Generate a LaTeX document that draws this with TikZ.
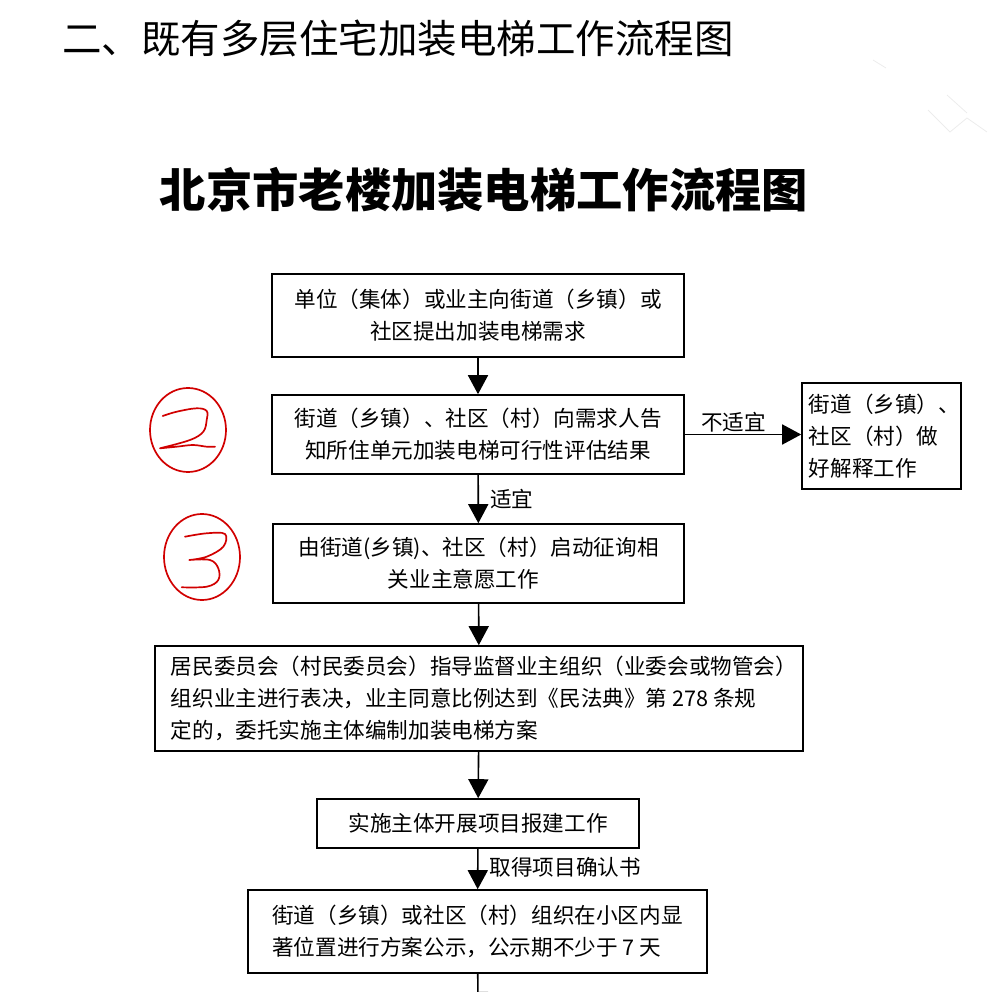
\documentclass[tikz,border=0pt]{standalone}
\usepackage{fontspec}
\setmainfont{Noto Sans CJK SC}
\usetikzlibrary{arrows.meta}

\tikzset{
  box/.style={draw,line width=1.6pt,inner sep=0pt,font=\fontsize{21.6}{32}\selectfont},
  flow/.style={-{Triangle[length=19pt,width=20pt]},line width=1.6pt},
  lbl/.style={inner sep=1pt,font=\fontsize{21.6}{32}\selectfont},
  hand/.style={red!82!black,line width=1.7pt,line cap=round,line join=round},
}

\begin{document}
\begin{tikzpicture}[x=1pt,y=-1pt]
  \useasboundingbox (0,0) rectangle (997,992);
  \clip (0,0) rectangle (997,992);
  % titulos
  \node[anchor=west,inner sep=0pt,font=\fontsize{39.5}{40}\selectfont] (head) at (62,38)
    {二、既有多层住宅加装电梯工作流程图};
  \node[inner sep=0pt,font=\fontsize{46.3}{48}\selectfont\bfseries] (title) at (484,190)
    {北京市老楼加装电梯工作流程图};
  % marca tenue arriba a la derecha
  \draw[gray!15,line width=0.8pt] (873,60)--(886,68) (928,110)--(950,132)--(967,118)--(987,132)
    (947,95)--(967,113);
  % cajas
  \node[box,minimum width=412pt,minimum height=83pt,align=center] (need) at (478,315.5)
    {单位（集体）或业主向街道（乡镇）或\\社区提出加装电梯需求};
  \node[box,minimum width=412pt,minimum height=79pt,align=center] (assess) at (478,434.5)
    {街道（乡镇）、社区（村）向需求人告\\知所住单元加装电梯可行性评估结果};
  \node[box,minimum width=159pt,minimum height=106pt,align=left] (explain) at (881.5,436)
    {\hspace*{6pt}街道（乡镇）、\\\hspace*{6pt}社区（村）做\\\hspace*{6pt}好解释工作};
  \node[box,minimum width=411pt,minimum height=79pt,align=center] (consult) at (478.5,563.5)
    {由街道(乡镇)、社区（村）启动征询相\\关业主意愿工作\hspace*{30pt}};
  \node[box,minimum width=648pt,minimum height=105pt,align=left] (vote) at (479,698.5)
    {\hspace*{10pt}居民委员会（村民委员会）指导监督业主组织（业委会或物管会）\\
     \hspace*{10pt}组织业主进行表决，业主同意比例达到《民法典》第 278 条规\\
     \hspace*{10pt}定的，委托实施主体编制加装电梯方案};
  \node[box,minimum width=322pt,minimum height=49pt] (report) at (478,823.5)
    {实施主体开展项目报建工作};
  \node[box,minimum width=459pt,minimum height=83pt,align=left] (publish) at (477.5,931.5)
    {街道（乡镇）或社区（村）组织在小区内显\\著位置进行方案公示，公示期不少于 7 天};
  \coordinate (next) at (478,1011);
  % flechas
  \draw[flow] (need) -- (assess);
  \draw[flow] (assess.east) -- (assess.east -| explain.west)
    node[lbl,pos=0.42,above=1pt] {不适宜};
  \draw[flow] (assess) -- (consult) node[lbl,midway,right=10pt] {适宜};
  \draw[flow] (consult) -- (vote);
  \draw[flow] (vote) -- (report);
  \draw[flow] (report) -- (publish) node[lbl,pos=0.45,right=10pt] {取得项目确认书};
  \draw[flow] (publish) -- (next);
  % marcas rojas a mano
  \draw[hand] (188,430) ellipse [x radius=38pt,y radius=42pt];
  \draw[hand] (202,557) ellipse [x radius=38pt,y radius=43pt];
  \draw[hand] plot[smooth,tension=0.6] coordinates {(162.7,416) (176.7,411.7) (196.7,408.3)
    (206.7,411) (206.7,420) (203.3,431.7) (190,440) (160,448.3)}
    plot[smooth,tension=0.6] coordinates {(160,448.3) (176.7,446.7) (193,445) (206.7,446.7) (215,446.7)};
  \draw[hand] plot[smooth,tension=0.6] coordinates {(185,536.7) (206.7,533.3) (225,534)
    (223.3,546.7) (206.7,556.7) (189.3,560)}
    plot[smooth,tension=0.6] coordinates {(189.3,560) (210,560) (218.3,568.3) (218.3,580)
    (206.7,586.7) (181.7,587.3)};
\end{tikzpicture}
\end{document}
